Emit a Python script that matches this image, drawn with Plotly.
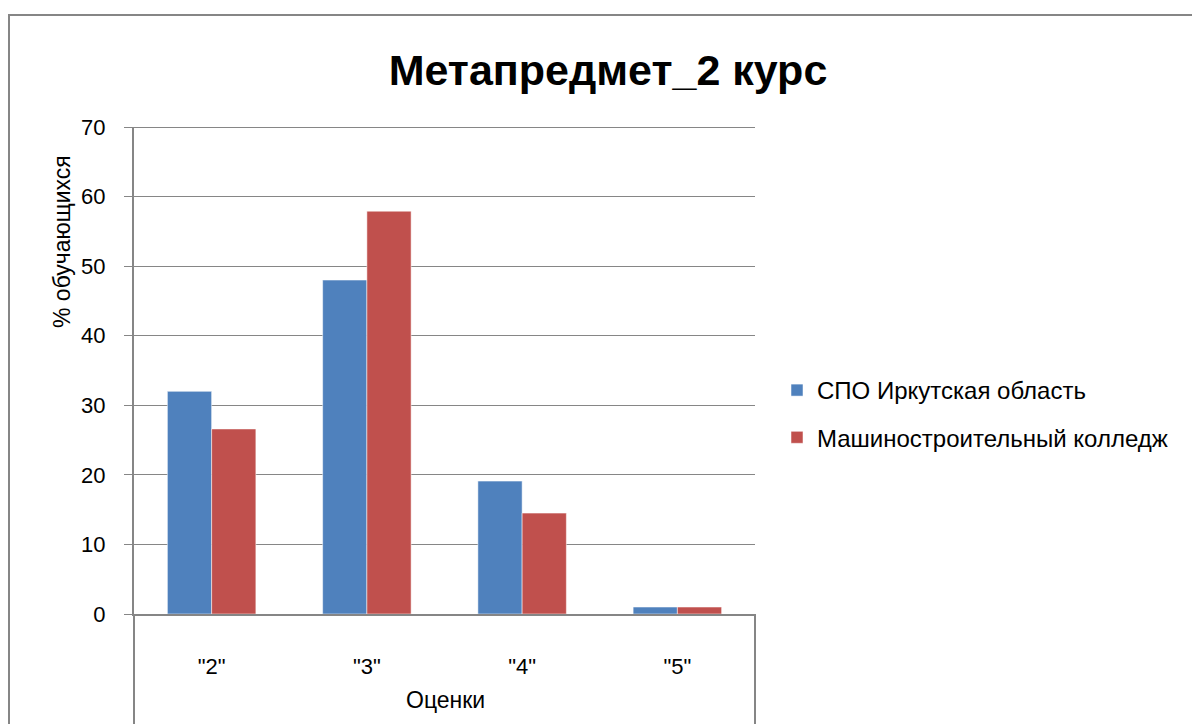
import plotly.graph_objects as go

categories = ['"2"', '"3"', '"4"', '"5"']
series_names = ["СПО Иркутская область", "Машиностроительный колледж"]
spo_values = [32.0, 48.0, 19.1, 1.0]
college_values = [26.6, 57.9, 14.5, 1.0]
colors = ["#4F81BD", "#C0504D"]
y_ticks = [0, 10, 20, 30, 40, 50, 60, 70]

W, H = 1200, 724
OFF = 8  # page body margin
# plot area in screen pixels
SL, SR, ST, SB = 134, 755, 127, 614
L, R, T, B = SL - OFF, SR - OFF, ST - OFF, SB - OFF
pw, ph = R - L, B - T


def px_x(sx):
    return (sx - OFF - L) / pw


def px_y(sy):
    return (B - (sy - OFF)) / ph


FONT = "Liberation Sans"
GRID = "#868686"

fig = go.Figure()
for name, vals, col in zip(series_names, [spo_values, college_values], colors):
    fig.add_trace(go.Bar(x=categories, y=vals, name=name, legendgroup=name,
                         marker=dict(color=col, line=dict(color="rgba(255,255,255,0.5)", width=1))))

fig.update_layout(
    width=W, height=H,
    margin=dict(l=L, r=W - R, t=T, b=H - B),
    paper_bgcolor="white", plot_bgcolor="white",
    barmode="group", bargap=0.43, bargroupgap=0,
    font=dict(family=FONT, color="#000000", size=22),
    title=dict(text="<b>Метапредмет_2 курс</b>", x=px_x(608), xref="paper", xanchor="center",
               y=1 - (70 - OFF) / H, yanchor="middle", font=dict(size=43, family=FONT)),
    legend=dict(x=px_x(777), y=px_y(368), xref="paper", yref="paper", xanchor="left", yanchor="top",
                font=dict(size=24, family=FONT), tracegroupgap=13, itemwidth=30,
                bgcolor="rgba(0,0,0,0)"),
    showlegend=True,
)
fig.update_yaxes(range=[0, 70], tickvals=y_ticks, showgrid=True, gridcolor=GRID, gridwidth=1,
                 showline=True, linecolor=GRID, linewidth=2, ticks="outside", ticklen=8,
                 tickcolor=GRID, tickfont=dict(size=22, family=FONT), zeroline=False,
                 ticklabelstandoff=14)
fig.update_xaxes(showline=True, linecolor=GRID, linewidth=2, ticks="", showgrid=False,
                 tickfont=dict(size=22, family=FONT), ticklabelstandoff=32)

fig.add_annotation(text="% обучающихся", xref="paper", yref="paper", x=px_x(62), y=px_y(242),
                   textangle=-90, showarrow=False, xanchor="center", yanchor="middle",
                   font=dict(size=23, family=FONT))
fig.add_annotation(text="Оценки", xref="paper", yref="paper", x=px_x(445), y=px_y(700),
                   showarrow=False, xanchor="center", yanchor="middle",
                   font=dict(size=23, family=FONT))

# top gridline at the axis maximum
fig.add_shape(type="line", xref="paper", yref="y", x0=px_x(126), x1=1, y0=y_ticks[-1], y1=y_ticks[-1],
              line=dict(color=GRID, width=2))
# outer chart border
fig.add_shape(type="rect", xref="paper", yref="paper", x0=px_x(OFF + 1), x1=px_x(1240),
              y0=px_y(760), y1=px_y(15), line=dict(color=GRID, width=2), layer="below")
# category-axis boundary lines below the plot
for xx in [0, 1]:
    fig.add_shape(type="line", xref="paper", yref="paper", x0=xx, x1=xx, y0=0, y1=px_y(730),
                  line=dict(color=GRID, width=2))

fig.write_html("out.html")
